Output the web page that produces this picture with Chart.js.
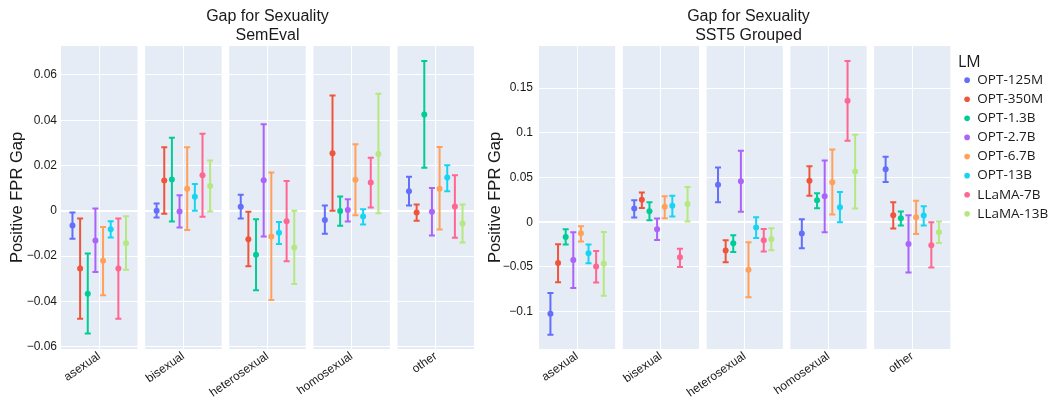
<!DOCTYPE html>
<html>
<head>
<meta charset="utf-8">
<script src="https://cdn.jsdelivr.net/npm/chart.js@4.4.0/dist/chart.umd.min.js"></script>
<style>
  html, body { margin: 0; padding: 0; background: #fff; }
  #wrap { position: relative; width: 1055px; height: 406px; }
  #left { position: absolute; left: 0; top: 0; }
  #right { position: absolute; left: 480px; top: 0; }
</style>
</head>
<body>
<div id="wrap">
  <canvas id="left" width="480" height="406"></canvas>
  <canvas id="right" width="575" height="406"></canvas>
</div>
<script>
// ===================================
// DATA
// ===================================

const categories = ['asexual', 'bisexual', 'heterosexual', 'homosexual', 'other'];
const models = ['OPT-125M', 'OPT-350M', 'OPT-1.3B', 'OPT-2.7B', 'OPT-6.7B', 'OPT-13B', 'LLaMA-7B', 'LLaMA-13B'];

// rows = models, columns = categories
const semevalGap = [
    [-0.0065, 0.0001, 0.0018, -0.0040, 0.0087],
    [-0.0254, 0.0134, -0.0125, 0.0254, -0.0007],
    [-0.0366, 0.0138, -0.0194, -0.0001, 0.0425],
    [-0.0131, -0.0003, 0.0135, 0.0004, -0.0004],
    [-0.0220, 0.0098, -0.0113, 0.0137, 0.0098],
    [-0.0081, 0.0062, -0.0097, -0.0025, 0.0147],
    [-0.0254, 0.0157, -0.0046, 0.0125, 0.0019],
    [-0.0143, 0.0110, -0.0162, 0.0251, -0.0056]
];
const semevalHigh = [
    [-0.0007, 0.0032, 0.0071, 0.0024, 0.0151],
    [-0.0034, 0.0281, -0.0004, 0.0509, 0.0028],
    [-0.0188, 0.0323, -0.0037, 0.0063, 0.0662],
    [0.0010, 0.0069, 0.0382, 0.0051, 0.0101],
    [-0.0071, 0.0281, 0.0169, 0.0294, 0.0282],
    [-0.0046, 0.0119, -0.0049, 0.0007, 0.0201],
    [-0.0034, 0.0340, 0.0132, 0.0235, 0.0157],
    [-0.0024, 0.0222, 0.0001, 0.0517, 0.0028]
];
const semevalLow = [
    [-0.0123, -0.0029, -0.0034, -0.0101, 0.0024],
    [-0.0476, -0.0013, -0.0245, 0.0001, -0.0044],
    [-0.0542, -0.0047, -0.0351, -0.0066, 0.0190],
    [-0.0270, -0.0074, -0.0113, -0.0047, -0.0109],
    [-0.0373, -0.0084, -0.0394, -0.0019, -0.0082],
    [-0.0118, 0.0001, -0.0146, -0.0060, 0.0087],
    [-0.0476, -0.0026, -0.0222, 0.0015, -0.0119],
    [-0.0260, -0.0003, -0.0323, -0.0010, -0.0140]
];

const sst5Gap = [
    [-0.1022, 0.0153, 0.0418, -0.0127, 0.0593],
    [-0.0455, 0.0250, -0.0317, 0.0463, 0.0078],
    [-0.0164, 0.0123, -0.0235, 0.0246, 0.0045],
    [-0.0421, -0.0078, 0.0459, 0.0291, -0.0242],
    [-0.0123, 0.0172, -0.0530, 0.0448, 0.0056],
    [-0.0347, 0.0183, -0.0060, 0.0168, 0.0075],
    [-0.0496, -0.0392, -0.0201, 0.1358, -0.0257],
    [-0.0463, 0.0205, -0.0190, 0.0567, -0.0112]
];
const sst5High = [
    [-0.0791, 0.0246, 0.0612, 0.0034, 0.0731],
    [-0.0246, 0.0332, -0.0201, 0.0627, 0.0224],
    [-0.0078, 0.0224, -0.0145, 0.0325, 0.0119],
    [-0.0112, 0.0041, 0.0798, 0.0690, 0.0078],
    [-0.0045, 0.0291, -0.0224, 0.0813, 0.0239],
    [-0.0250, 0.0295, 0.0056, 0.0339, 0.0179],
    [-0.0321, -0.0295, -0.0075, 0.1802, 0.0000],
    [-0.0108, 0.0395, -0.0067, 0.0977, 0.0007]
];
const sst5Low = [
    [-0.1257, 0.0052, 0.0224, -0.0291, 0.0451],
    [-0.0671, 0.0160, -0.0448, 0.0295, -0.0071],
    [-0.0250, 0.0022, -0.0332, 0.0157, -0.0037],
    [-0.0735, -0.0198, 0.0116, -0.0112, -0.0563],
    [-0.0216, 0.0045, -0.0839, 0.0086, -0.0131],
    [-0.0459, 0.0063, -0.0175, 0.0000, -0.0037],
    [-0.0675, -0.0500, -0.0328, 0.0910, -0.0507],
    [-0.0821, 0.0007, -0.0313, 0.0153, -0.0231]
];

const semevalTicks = [-0.06, -0.04, -0.02, 0, 0.02, 0.04, 0.06];
const sst5Ticks = [-0.1, -0.05, 0, 0.05, 0.1, 0.15];

// ===================================
// STYLE
// ===================================

const colors = ['#636EFA', '#EF553B', '#00CC96', '#AB63FA', '#FFA15A', '#19D3F3', '#FF6692', '#B6E880'];
const TEXT = '#1a1a1a';
const FACET_BG = '#E5ECF6';
const FACET_PITCH = 1.1;   // facet width 1 + gap 0.1
const GROUP_STEP = 0.1;    // offset between models inside a facet

Chart.defaults.font.family = "'Liberation Sans', Arial, Helvetica, sans-serif";
Chart.defaults.color = TEXT;

const facetCenter = i => i * FACET_PITCH + 0.5;

function fmtTick(v) {
    const s = String(+Math.abs(v).toFixed(2));
    return v < 0 ? '\u2212' + s : s;
}

// ===================================
// PLUGINS
// ===================================

const facetBg = {
    id: 'facetBg',
    beforeDraw(chart) {
        const { ctx, chartArea, scales: { x } } = chart;
        ctx.save();
        ctx.fillStyle = FACET_BG;
        categories.forEach((c, i) => {
            const x0 = x.getPixelForValue(i * FACET_PITCH);
            const x1 = x.getPixelForValue(i * FACET_PITCH + 1);
            ctx.fillRect(x0, chartArea.top, x1 - x0, chartArea.bottom - chartArea.top);
        });
        ctx.restore();
    }
};

const errorBars = {
    id: 'errorBars',
    beforeDatasetsDraw(chart) {
        const ctx = chart.ctx;
        const y = chart.scales.y;
        chart.data.datasets.forEach((ds, di) => {
            const meta = chart.getDatasetMeta(di);
            ctx.save();
            ctx.strokeStyle = ds.borderColor;
            ctx.lineWidth = 2;
            meta.data.forEach((pt, i) => {
                const d = ds.data[i];
                const top = y.getPixelForValue(d.hi);
                const bot = y.getPixelForValue(d.lo);
                ctx.beginPath();
                ctx.moveTo(pt.x, top); ctx.lineTo(pt.x, bot);
                ctx.moveTo(pt.x - 3, top); ctx.lineTo(pt.x + 3, top);
                ctx.moveTo(pt.x - 3, bot); ctx.lineTo(pt.x + 3, bot);
                ctx.stroke();
            });
            ctx.restore();
        });
    }
};

// ===================================
// CHART BUILDER
// ===================================

function buildDatasets(gap, low, high) {
    return models.map((name, k) => ({
        label: name,
        data: categories.map((c, i) => ({
            x: facetCenter(i) + (k - 3.5) * GROUP_STEP,
            y: gap[k][i],
            lo: low[k][i],
            hi: high[k][i]
        })),
        backgroundColor: colors[k],
        borderColor: colors[k],
        borderWidth: 0,
        pointRadius: 3,
        pointBorderWidth: 0,
        pointStyle: 'circle'
    }));
}

function makeChart(id, cfg) {
    return new Chart(document.getElementById(id), {
        type: 'scatter',
        data: { datasets: buildDatasets(cfg.gap, cfg.low, cfg.high) },
        plugins: [facetBg, errorBars],
        options: {
            responsive: false,
            animation: false,
            devicePixelRatio: 1,
            layout: { padding: cfg.padding },
            scales: {
                x: {
                    type: 'linear',
                    min: 0,
                    max: cfg.xMax,
                    afterBuildTicks: s => { s.ticks = categories.map((c, i) => ({ value: facetCenter(i) })); },
                    afterFit: s => { s.height = 57; },
                    grid: { color: '#FFFFFF', lineWidth: 1, drawTicks: false },
                    border: { display: false },
                    ticks: {
                        autoSkip: false,
                        maxRotation: 35,
                        minRotation: 35,
                        padding: 0,
                        font: { size: 12 },
                        color: TEXT,
                        callback: (v, i) => categories[i]
                    }
                },
                y: {
                    min: cfg.yMin,
                    max: cfg.yMax,
                    afterBuildTicks: s => { s.ticks = cfg.ticks.map(v => ({ value: v })); },
                    afterFit: s => { s.width = cfg.yWidth; },
                    grid: {
                        color: '#FFFFFF',
                        lineWidth: c => (c.tick && c.tick.value === 0 ? 2 : 1),
                        drawTicks: false
                    },
                    border: { display: false },
                    title: {
                        display: true,
                        text: 'Positive FPR Gap',
                        font: { size: 16.5 },
                        color: TEXT,
                        padding: { top: cfg.yTitlePad, bottom: 0 }
                    },
                    ticks: {
                        padding: cfg.yTickPad,
                        font: { size: 12 },
                        color: TEXT,
                        callback: v => fmtTick(v)
                    }
                }
            },
            plugins: {
                tooltip: { enabled: false },
                title: {
                    display: true,
                    fullSize: false,
                    text: ['Gap for Sexuality', cfg.subtitle],
                    font: { size: 16, weight: 'normal', lineHeight: 1.2 },
                    color: TEXT,
                    padding: { top: 7, bottom: 0.6 }
                },
                legend: cfg.legend
            }
        }
    });
}

makeChart('left', {
    gap: semevalGap, low: semevalLow, high: semevalHigh,
    subtitle: 'SemEval',
    ticks: semevalTicks,
    yMin: -0.061, yMax: 0.0728,
    xMax: 5.4,
    yWidth: 61, yTitlePad: 8, yTickPad: 4,
    padding: { left: 0, right: 6, top: 0, bottom: 0 },
    legend: { display: false }
});

makeChart('right', {
    gap: sst5Gap, low: sst5Low, high: sst5High,
    subtitle: 'SST5 Grouped',
    ticks: sst5Ticks,
    yMin: -0.1417, yMax: 0.197,
    xMax: 5.5,
    yWidth: 59, yTitlePad: 6, yTickPad: 6,
    padding: { left: 0, right: 7, top: 0, bottom: 0 },
    legend: {
        display: true,
        position: 'right',
        align: 'start',
        maxWidth: 90,
        title: {
            display: true,
            text: 'LM',
            position: 'start',
            color: TEXT,
            font: { family: "'Open Sans', sans-serif", size: 16, lineHeight: 1.2 },
            padding: { top: 54.7, bottom: -6.1 }
        },
        labels: {
            usePointStyle: true,
            boxWidth: 7,
            boxHeight: 4,
            padding: 5.6,
            color: TEXT,
            font: { family: "'Open Sans', sans-serif", size: 13.5 }
        }
    }
});
</script>
</body>
</html>
